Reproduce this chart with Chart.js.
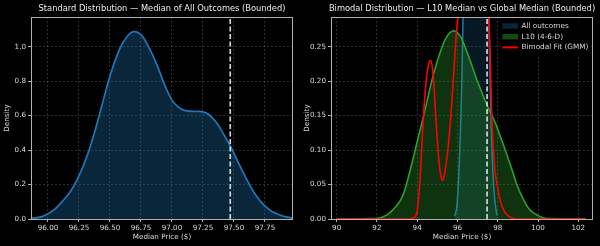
<!DOCTYPE html>
<html>
<head>
<meta charset="utf-8">
<script src="https://cdn.jsdelivr.net/npm/chart.js@4.4.1/dist/chart.umd.min.js"></script>
<style>
  html, body { margin: 0; padding: 0; background: #000; }
  #wrap { position: relative; width: 600px; height: 246px; }
  canvas { position: absolute; top: 0; }
</style>
</head>
<body>
<div id="wrap">
  <canvas id="std-chart" width="300" height="246" style="left:0"></canvas>
  <canvas id="bimodal-chart" width="300" height="246" style="left:300px"></canvas>
</div>
<script>
// --- DATA ---
// Standard distribution: KDE of the median of all outcomes
const stdX = [95.86, 95.95, 96.00, 96.06, 96.12, 96.19, 96.25, 96.32, 96.39, 96.45, 96.50, 96.58, 96.64, 96.69,
              96.75, 96.81, 96.87, 96.94, 97.00, 97.05, 97.10, 97.18, 97.25, 97.30, 97.36, 97.41, 97.48, 97.53,
              97.58, 97.66, 97.72, 97.75, 97.80, 97.87, 97.93, 97.98];
const stdY = [0.004, 0.014, 0.03, 0.06, 0.105, 0.17, 0.25, 0.375, 0.54, 0.70, 0.83, 0.99, 1.06, 1.087,
              1.07, 1.00, 0.91, 0.78, 0.69, 0.65, 0.63, 0.624, 0.622, 0.605, 0.558, 0.50, 0.41, 0.335,
              0.262, 0.155, 0.098, 0.075, 0.047, 0.023, 0.011, 0.005];

// L10 (4-6-D) KDE
const l10X = [90.0, 92.0, 92.5, 93.0, 93.3, 93.6, 94.0, 94.4, 94.8, 95.2, 95.5, 95.8, 96.0, 96.2, 96.6, 97.0,
              97.5, 97.8, 98.1, 98.4, 98.7, 99.0, 99.3, 99.6, 100.0, 100.4, 102.37];
const l10Y = [0, 0.001, 0.006, 0.02, 0.035, 0.065, 0.112, 0.16, 0.209, 0.247, 0.266, 0.273, 0.27, 0.262, 0.232, 0.199,
              0.163, 0.145, 0.122, 0.098, 0.072, 0.046, 0.027, 0.013, 0.005, 0.001, 0];

// Bimodal fit (GMM)
const gmmX = [90.0, 93.6, 93.9, 94.0, 94.14, 94.3, 94.47, 94.57, 94.67, 94.76, 94.85, 94.93, 95.02, 95.1, 95.18,
              95.26, 95.34, 95.43, 95.53, 95.63, 95.71, 95.79, 95.92, 96.04, 96.2, 96.45, 96.75, 97.05, 97.3,
              97.5, 97.6, 97.71, 97.86, 98.0, 98.11, 98.35, 98.6, 99.0, 102.37];
const gmmY = [0, 0, 0.003, 0.012, 0.057, 0.144, 0.207, 0.225, 0.23, 0.218, 0.185, 0.144, 0.105, 0.078, 0.062,
              0.056, 0.062, 0.078, 0.102, 0.134, 0.166, 0.2, 0.26, 0.30, 0.37, 0.46, 0.52, 0.49, 0.40,
              0.32, 0.26, 0.144, 0.071, 0.045, 0.028, 0.01, 0.003, 0, 0];

const globalMedian = [97.47];

// Axis ticks
const stdXTicks = [96.00, 96.25, 96.50, 96.75, 97.00, 97.25, 97.50, 97.75];
const stdYTicks = [0.0, 0.2, 0.4, 0.6, 0.8, 1.0];
const bimXTicks = [90, 92, 94, 96, 98, 100, 102];
const bimYTicks = [0.00, 0.05, 0.10, 0.15, 0.20, 0.25];

// Axis limits
const stdXRange = [95.863, 97.976];
const stdYRange = [0, 1.172];
const bimXRange = [89.72, 102.73];
const bimYRange = [0, 0.293];

const FONT = "'DejaVu Sans', sans-serif";
const TEXT = '#d8d8d8';

function toPoints(xs, ys) {
    return xs.map((x, i) => ({ x: x, y: ys[i] }));
}

// vertical dashed marker, drawn through the library scales
function medianLine(yTop) {
    return {
        data: [{ x: globalMedian[0], y: 0 }, { x: globalMedian[0], y: yTop }],
        borderColor: 'rgba(240,240,240,0.9)',
        borderWidth: 1.6,
        borderDash: [5, 2.5],
        pointRadius: 0,
        fill: false,
        order: 0
    };
}

function linearAxis(range, ticks, fmt, title, isX) {
    return {
        type: 'linear',
        min: range[0],
        max: range[1],
        afterBuildTicks: (scale) => { scale.ticks = ticks.map(v => ({ value: v })); },
        afterFit: (scale) => {
            if (isX) scale.height = 27; else scale.width = 31;
        },
        grid: {
            color: 'rgba(255,255,255,0.22)',
            lineWidth: 0.8,
            tickColor: '#b0b0b0',
            tickLength: 3,
            tickWidth: 1
        },
        border: { display: false, dash: [2, 2] },
        ticks: {
            color: TEXT,
            font: { family: FONT, size: 7.2 },
            padding: 2,
            autoSkip: false,
            maxRotation: 0,
            callback: (v) => Number(v).toFixed(fmt)
        },
        title: {
            display: true,
            text: title,
            color: TEXT,
            font: { family: FONT, size: 7.2 },
            padding: isX ? { top: 0, bottom: 4.5 } : { top: 2.5, bottom: 0 }
        }
    };
}

// Black background, axes frame and centered panel title
const panelDecor = {
    id: 'panelDecor',
    beforeDraw(chart) {
        const ctx = chart.ctx;
        ctx.save();
        ctx.fillStyle = '#000';
        ctx.fillRect(0, 0, chart.width, chart.height);
        ctx.restore();
    },
    afterDatasetsDraw(chart, args, opts) {
        const { ctx, chartArea: a } = chart;
        ctx.save();
        ctx.strokeStyle = '#b0b0b0';
        ctx.lineWidth = 1;
        ctx.strokeRect(Math.round(a.left) + 0.5, Math.round(a.top) + 0.5,
                       Math.round(a.right - a.left) - 1, Math.round(a.bottom - a.top));
        ctx.fillStyle = '#ececec';
        ctx.font = '8.3px ' + FONT;
        ctx.textAlign = 'center';
        ctx.textBaseline = 'middle';
        ctx.fillText(opts.title, (a.left + a.right) / 2, 9);
        ctx.restore();
    }
};

// matplotlib-like legend in the upper right of the plot area
const cornerLegend = {
    id: 'cornerLegend',
    afterDraw(chart, args, opts) {
        const { ctx, chartArea: a } = chart;
        const items = chart.data.datasets.filter(d => d.label);
        const x0 = a.right - 93;
        ctx.save();
        ctx.fillStyle = 'rgba(0,0,0,0.8)';
        ctx.fillRect(x0, a.top + 2, 90, 36);
        items.forEach((d, i) => {
            const cy = a.top + 9 + i * 10.7;
            if (d.fill) {
                ctx.fillStyle = d.legendColor;
                ctx.fillRect(x0 + 2.5, cy - 2.7, 15.5, 5.4);
            } else {
                ctx.strokeStyle = d.borderColor;
                ctx.lineWidth = 2;
                ctx.beginPath();
                ctx.moveTo(x0 + 2.5, cy);
                ctx.lineTo(x0 + 18, cy);
                ctx.stroke();
            }
            ctx.fillStyle = TEXT;
            ctx.font = '7.3px ' + FONT;
            ctx.textAlign = 'left';
            ctx.textBaseline = 'middle';
            ctx.fillText(d.label, x0 + 21.5, cy);
        });
        ctx.restore();
    }
};

const commonOptions = {
    responsive: false,
    animation: false,
    devicePixelRatio: 1,
    layout: { padding: { top: 17, right: 7, left: 0, bottom: 0 } },
    plugins: { legend: { display: false }, tooltip: { enabled: false } }
};

// --- 1. STANDARD DISTRIBUTION ---
new Chart(document.getElementById('std-chart'), {
    type: 'line',
    data: {
        datasets: [
            medianLine(stdYRange[1]),
            {
                data: toPoints(stdX, stdY),
                borderColor: '#1f77b4',
                backgroundColor: 'rgba(31,119,180,0.32)',
                borderWidth: 1.7,
                pointRadius: 0,
                tension: 0.4,
                fill: 'origin',
                order: 1
            }
        ]
    },
    options: {
        ...commonOptions,
        plugins: { ...commonOptions.plugins, panelDecor: { title: 'Standard Distribution — Median of All Outcomes (Bounded)' } },
        scales: {
            x: linearAxis(stdXRange, stdXTicks, 2, 'Median Price ($)', true),
            y: linearAxis(stdYRange, stdYTicks, 1, 'Density', false)
        }
    },
    plugins: [panelDecor]
});

// --- 2. BIMODAL DISTRIBUTION ---
new Chart(document.getElementById('bimodal-chart'), {
    type: 'line',
    data: {
        datasets: [
            medianLine(bimYRange[1]),
            {
                label: 'All outcomes',
                data: toPoints(stdX, stdY),
                borderColor: '#1f77b4',
                backgroundColor: 'rgba(31,119,180,0.2)',
                legendColor: 'rgba(31,119,180,0.3)',
                borderWidth: 1.5,
                pointRadius: 0,
                tension: 0.4,
                fill: 'origin',
                order: 3
            },
            {
                label: 'L10 (4-6-D)',
                data: toPoints(l10X, l10Y),
                borderColor: '#2ca02c',
                backgroundColor: 'rgba(44,160,44,0.32)',
                legendColor: 'rgba(44,160,44,0.45)',
                borderWidth: 1.6,
                pointRadius: 0,
                tension: 0.4,
                fill: 'origin',
                order: 2
            },
            {
                label: 'Bimodal Fit (GMM)',
                data: toPoints(gmmX, gmmY),
                borderColor: '#ff0000',
                borderWidth: 1.6,
                pointRadius: 0,
                cubicInterpolationMode: 'monotone',
                fill: false,
                order: 1
            }
        ]
    },
    options: {
        ...commonOptions,
        plugins: { ...commonOptions.plugins, panelDecor: { title: 'Bimodal Distribution — L10 Median vs Global Median (Bounded)' } },
        scales: {
            x: linearAxis(bimXRange, bimXTicks, 0, 'Median Price ($)', true),
            y: linearAxis(bimYRange, bimYTicks, 2, 'Density', false)
        }
    },
    plugins: [panelDecor, cornerLegend]
});
</script>
</body>
</html>
